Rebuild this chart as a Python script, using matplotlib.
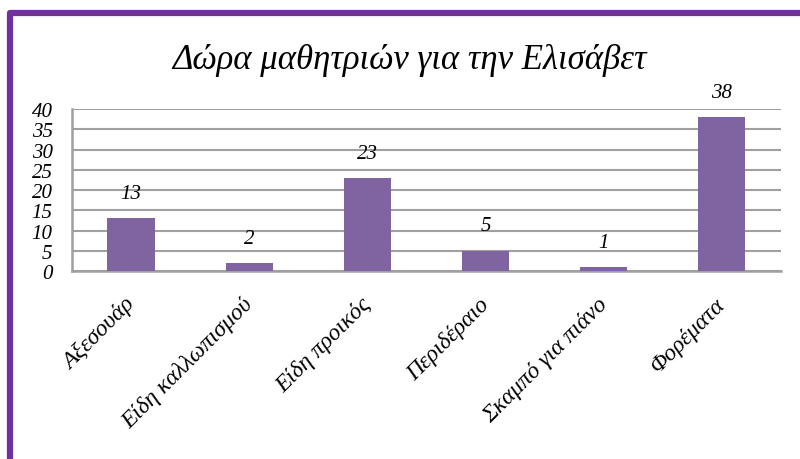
import matplotlib
matplotlib.use("Agg")
import matplotlib.pyplot as plt
import matplotlib.transforms as mtransforms
from matplotlib.lines import Line2D

categories = ["Αξεσουάρ", "Είδη καλλωπισμού", "Είδη προικός",
              "Περιδέραιο", "Σκαμπό για πιάνο", "Φορέματα"]
values = [13, 2, 23, 5, 1, 38]
y_ticks = [0, 5, 10, 15, 20, 25, 30, 35, 40]
title = "Δώρα μαθητριών για την Ελισάβετ"

serif = ["Liberation Serif", "DejaVu Serif"]
bar_color = "#8064A2"
grid_color = "#A0A0A0"
frame_color = "#7030A0"

fig = plt.figure(figsize=(8, 4.6), dpi=100)
ax = fig.add_axes([0.09, 0.4087, 0.886, 0.352])

x = range(len(categories))
ax.bar(x, values, width=0.4, color=bar_color, zorder=3)

for xi, v in zip(x, values):
    ax.annotate(str(v), (xi, v), xytext=(0, 11), textcoords="offset points",
                ha="center", va="bottom", fontsize=15, style="italic",
                family=serif)

ax.set_xlim(-0.5, len(categories) - 0.5)
ax.set_ylim(0, 40)
ax.set_yticks(y_ticks)
ax.set_yticklabels([str(t) for t in y_ticks], fontsize=15, style="italic",
                   family=serif)
ax.yaxis.grid(True, color=grid_color, linewidth=1.5, zorder=0)
ax.tick_params(axis="y", length=0, pad=14)
ax.tick_params(axis="x", length=0, pad=16)
ax.set_xticks(list(x))
ax.set_xticklabels(categories, rotation=45, ha="right",
                   rotation_mode="anchor", fontsize=17, style="italic",
                   family=serif)
shift = mtransforms.ScaledTranslation(-5 / 72, 0, fig.dpi_scale_trans)
for lbl in ax.get_xticklabels():
    lbl.set_transform(lbl.get_transform() + shift)

for side in ("top", "right"):
    ax.spines[side].set_visible(False)
for side in ("left", "bottom"):
    ax.spines[side].set_color(grid_color)
    ax.spines[side].set_linewidth(1.8)

fig.text(0.512, 0.868, title, ha="center", va="center", fontsize=25,
         style="italic", family=serif)

# purple frame along the left and top edges
frame = Line2D([0.0125, 0.0125, 1.01], [-0.01, 0.9696, 0.9696],
               transform=fig.transFigure, color=frame_color, linewidth=4.5,
               solid_joinstyle="round", solid_capstyle="butt")
fig.add_artist(frame)

fig.savefig("out.png", dpi=100)
